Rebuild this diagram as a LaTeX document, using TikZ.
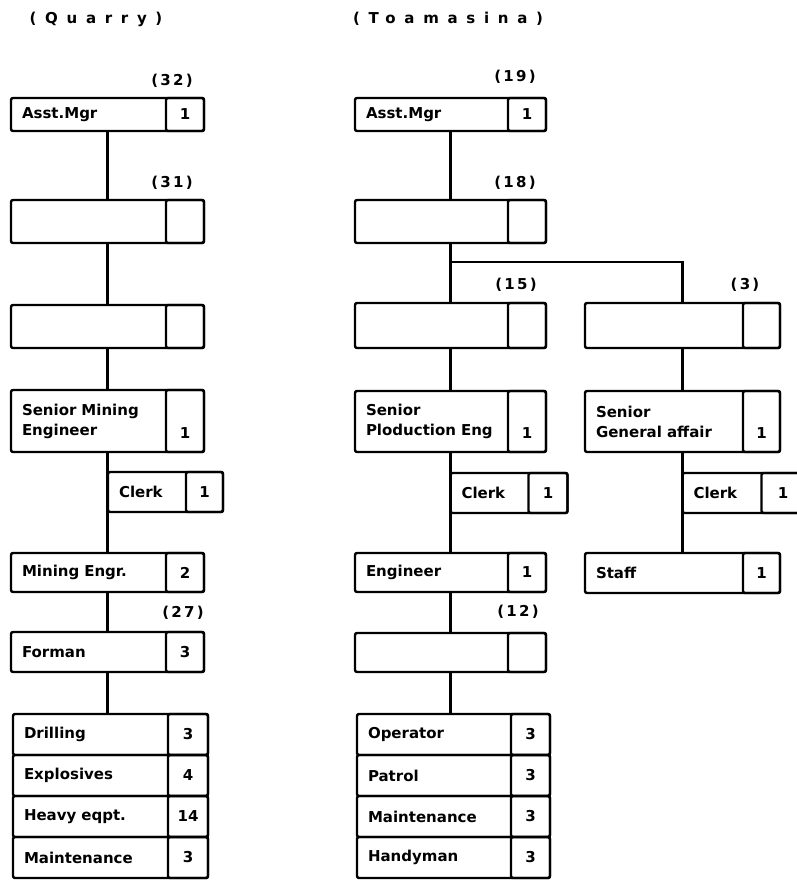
\documentclass[tikz,border=0pt]{standalone}
\usepackage{fontspec}
\setmainfont{DejaVu Sans}

% one post: name, x, y, width, height, count width, title, count
\newcommand\orgbox[8]{%
  \pgfmathsetmacro\orgtw{#4-22}%
  \node[post,text width=\orgtw pt,minimum height=#5] (#1) at (#2,#3) {#7};%
  \node[tally,minimum width=#6,minimum height=#5] (#1n) at (#1.north east) {#8};%
}

\begin{document}
\begin{tikzpicture}[x=1pt,y=-1pt,
  font=\bfseries\fontsize{15}{20}\selectfont,
  post/.style={draw,line width=2.4pt,rounded corners=2pt,anchor=north west,
    inner xsep=11pt,inner ysep=0pt,outer sep=0pt,align=left},
  tally/.style={draw,line width=2.4pt,rounded corners=2pt,anchor=north east,
    inner sep=0pt,outer sep=0pt,align=center},
  link/.style={line width=2.4pt},
  tag/.style={inner sep=0pt,font=\bfseries\fontsize{15}{20}\selectfont\addfontfeature{LetterSpace=15}},
  head/.style={inner sep=0pt,font=\bfseries\fontsize{15}{20}\selectfont\addfontfeature{LetterSpace=58}}]
\useasboundingbox (0,0) rectangle (797,881);
\clip (0,0) rectangle (797,881);

\node[head] (hq) at (96,19) {(Quarry)};
\node[head] (ht) at (448,19) {(Toamasina)};

% Quarry
\orgbox{qa}{11}{98}{193}{33}{38}{Asst.Mgr}{1}
\orgbox{qb}{11}{200}{193}{43}{38}{}{}
\orgbox{qc}{11}{305}{193}{43}{38}{}{}
\orgbox{qd}{11}{390}{193}{62}{38}{Senior Mining\\Engineer}{\strut\\1}
\orgbox{qk}{108}{472}{115}{40}{37}{Clerk}{1}
\orgbox{qe}{11}{553}{193}{39}{38}{Mining Engr.}{2}
\orgbox{qf}{11}{632}{193}{40}{38}{Forman}{3}
\orgbox{qg1}{13}{714}{195}{41}{40}{Drilling}{3}
\orgbox{qg2}{13}{755}{195}{41}{40}{Explosives}{4}
\orgbox{qg3}{13}{796}{195}{41}{40}{Heavy eqpt.}{14}
\orgbox{qg4}{13}{837}{195}{41}{40}{Maintenance}{3}
\node[tag] (l32) at (172,81) {(32)};
\node[tag] (l31) at (172,183) {(31)};
\node[tag] (l27) at (183,613) {(27)};
\draw[link] (qa) -- (qb);
\draw[link] (qb) -- (qc);
\draw[link] (qc) -- (qd);
\draw[link] (qd) -- (qe);
\draw[link] (qe) -- (qf);
\draw[link] (qf.south) -- (qf.south |- qg1.north);

% Toamasina
\orgbox{ta}{355}{98}{191}{33}{38}{Asst.Mgr}{1}
\orgbox{tb}{355}{200}{191}{43}{38}{}{}
\orgbox{tc}{355}{303}{191}{45}{38}{}{}
\orgbox{td}{355}{391}{191}{61}{38}{Senior\\Ploduction Eng}{\strut\\1}
\orgbox{tk}{450.5}{473}{117}{40}{39}{Clerk}{1}
\orgbox{te}{355}{553}{191}{39}{38}{Engineer}{1}
\orgbox{tf}{355}{633}{191}{39}{38}{}{}
\orgbox{tg1}{357}{714}{193}{41}{39}{Operator}{3}
\orgbox{tg2}{357}{755}{193}{41}{39}{Patrol}{3}
\orgbox{tg3}{357}{796}{193}{41}{39}{Maintenance}{3}
\orgbox{tg4}{357}{837}{193}{41}{39}{Handyman}{3}
\node[tag] (l19) at (515,77) {(19)};
\node[tag] (l18) at (515,183) {(18)};
\node[tag] (l15) at (516,285) {(15)};
\node[tag] (l12) at (518,612) {(12)};
\draw[link] (ta) -- (tb);
\draw[link] (tb) -- (tc);
\draw[link] (tc) -- (td);
\draw[link] (td) -- (te);
\draw[link] (te) -- (tf);
\draw[link] (tf.south) -- (tf.south |- tg1.north);

% general affairs branch
\orgbox{ra}{585}{303}{195}{45}{37}{}{}
\orgbox{rb}{585}{391}{195}{61}{37}{Senior\\General affair}{\strut\\1}
\orgbox{rk}{682.5}{473}{122}{40}{43}{Clerk}{1}
\orgbox{rc}{585}{553}{195}{40}{37}{Staff}{1}
\node[tag] (l3) at (745,285) {(3)};
\draw[link] (tb.south) -- ++(0,19) -| (ra.north);
\draw[link] (ra) -- (rb);
\draw[link] (rb) -- (rc);
\end{tikzpicture}
\end{document}
